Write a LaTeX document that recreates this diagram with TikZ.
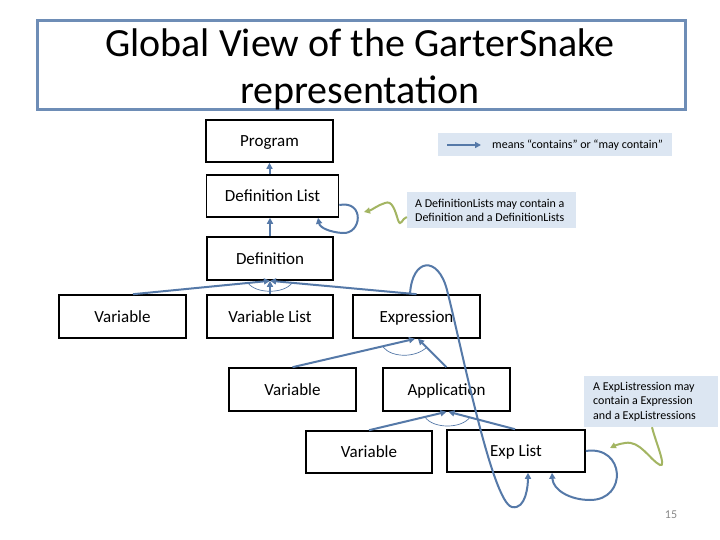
\documentclass[tikz,border=0pt]{standalone}
\usepackage{fontspec}
\setmainfont{Carlito}
\usetikzlibrary{arrows.meta}
\definecolor{arrowblue}{HTML}{5579A8}
\definecolor{titleblue}{HTML}{6E8DB6}
\definecolor{notefill}{HTML}{DCE6F2}
\definecolor{curlgreen}{HTML}{A3B562}
\definecolor{pagegray}{HTML}{898989}
\begin{document}
\begin{tikzpicture}[x=1pt,y=-1pt,
  box/.style={draw=black,fill=white,line width=1.6pt,minimum width=#1,minimum height=42pt,inner sep=0pt,text height=11pt,text depth=0pt,font=\fontsize{17}{20}\selectfont},
  box/.default=127pt,
  link/.style={draw=arrowblue,line width=2pt,-{Triangle[length=6pt,width=6pt]}},
  andarc/.style={draw=arrowblue,line width=0.7pt},
  curl/.style={draw=curlgreen,line width=2pt,-{Triangle[length=6pt,width=6pt]}},
  notebox/.style={fill=notefill,inner sep=0pt},
  small/.style={font=\fontsize{12}{14.5}\selectfont,inner sep=0pt,align=left}]
\fill[white] (0,0) rectangle (720,540);
\useasboundingbox (0,0) rectangle (720,540);

% title
\node[draw=titleblue,line width=3pt,minimum width=648pt,minimum height=89pt] (titlebox) at (361,65.5) {};
\node[font=\fontsize{40}{47}\selectfont,anchor=base,inner sep=0pt] (title1) at (360,57) {Global View of the GarterSnake};
\node[font=\fontsize{40}{47}\selectfont,anchor=base,inner sep=0pt] (title2) at (360,104) {representation};

% boxes
\node[box] (prog) at (269.5,141) {Program};
\node[box=132pt] (dlist) at (272.5,196) {Definition List};
\node[box=126pt,minimum height=43pt] (def) at (270,258.5) {Definition};
\node[box,minimum height=43pt] (var1) at (122.5,316.5) {Variable};
\node[box=126pt,minimum height=43pt] (vlist) at (270,316.5) {Variable List};
\node[box,minimum height=43pt] (expr) at (416.5,316.5) {Expression};
\node[box,minimum height=43pt] (var2) at (292.5,389.5) {Variable};
\node[box,minimum height=43pt] (app) at (446.5,389.5) {Application};
\node[box=126pt] (var3) at (369,452) {Variable};
\node[box=138pt] (elist) at (516,451) {Exp List};

% legend
\node[notebox,minimum width=234pt,minimum height=23pt] (legend) at (555,144.5) {};
\coordinate (la) at (447,145);
\coordinate (lb) at (481,145);
\draw[link] (la) -- (lb);
\node[small,anchor=west] (legtext) at (492,145) {means “contains” or “may contain”};

% notes
\node[notebox,minimum width=169pt,minimum height=36pt] (dnote) at (491.5,210) {};
\node[small,anchor=west] (dtext) at (415,210.5) {A DefinitionLists may contain a\\Definition and a DefinitionLists};
\node[notebox,minimum width=134pt,minimum height=51pt] (enote) at (651,401.5) {};
\node[small,anchor=west] (etext) at (593,401.5) {A ExpListression may\\contain a Expression\\and a ExpListressions};

% and-arcs
\draw[andarc] (248,283) .. controls (256,294) and (284,294) .. (292,283);
\draw[andarc] (383,347) .. controls (392,358) and (416,358) .. (427,347);
\draw[andarc] (425,417) .. controls (433,429) and (462,429) .. (470,417);

% containment arrows
\draw[link] (dlist.north -| prog.south) -- (prog.south);
\draw[link] (def.north) -- (def.north |- dlist.south);
\draw[link] ([xshift=10.5pt]var1.north) -- (def.south);
\draw[link] (vlist.north) -- (def.south);
\draw[link] (expr.north) -- (def.south);
\draw[link] (var2.north) -- ([xshift=-1.5pt]expr.south);
\draw[link] (app.north) -- ([xshift=1.5pt]expr.south);
\draw[link] (var3.north) -- (app.south);
\draw[link] ([xshift=-1pt]elist.north) -- ([xshift=2pt]app.south);

% self loops and long curve
\draw[link] ([yshift=-9pt]dlist.east) .. controls (365,200) and (362,235) .. (342,233) .. controls (330,232) and (320,228) .. ([xshift=45.5pt]dlist.south);
\draw[link] (elist.east) .. controls (625,445) and (628,500) .. (590,500) .. controls (570,500) and (553,490) .. ([xshift=36pt]elist.south);
\draw[link] ([xshift=-6.5pt]expr.north) .. controls (412,258) and (438,255) .. (447,290) .. controls (460,340) and (492,503) .. (512,507) .. controls (526,510) and (528,485) .. ([xshift=12pt]elist.south);

% green curls
\coordinate (dcurl) at (364,212);
\coordinate (ecurl) at (610,448);
\draw[curl] ([yshift=-7pt]dnote.west) .. controls (402,218) and (401,228) .. (398,220) .. controls (395,210) and (392,200) .. (385,203) .. controls (378,205) and (372,210) .. (dcurl);
\draw[curl] ([xshift=1pt]enote.south) .. controls (655,440) and (667,468) .. (660,465) .. controls (650,460) and (640,440) .. (625,443) .. controls (618,444) and (614,446) .. (ecurl);

% page number
\node[small,text=pagegray] (pagenum) at (671,515) {15};
\end{tikzpicture}
\end{document}
